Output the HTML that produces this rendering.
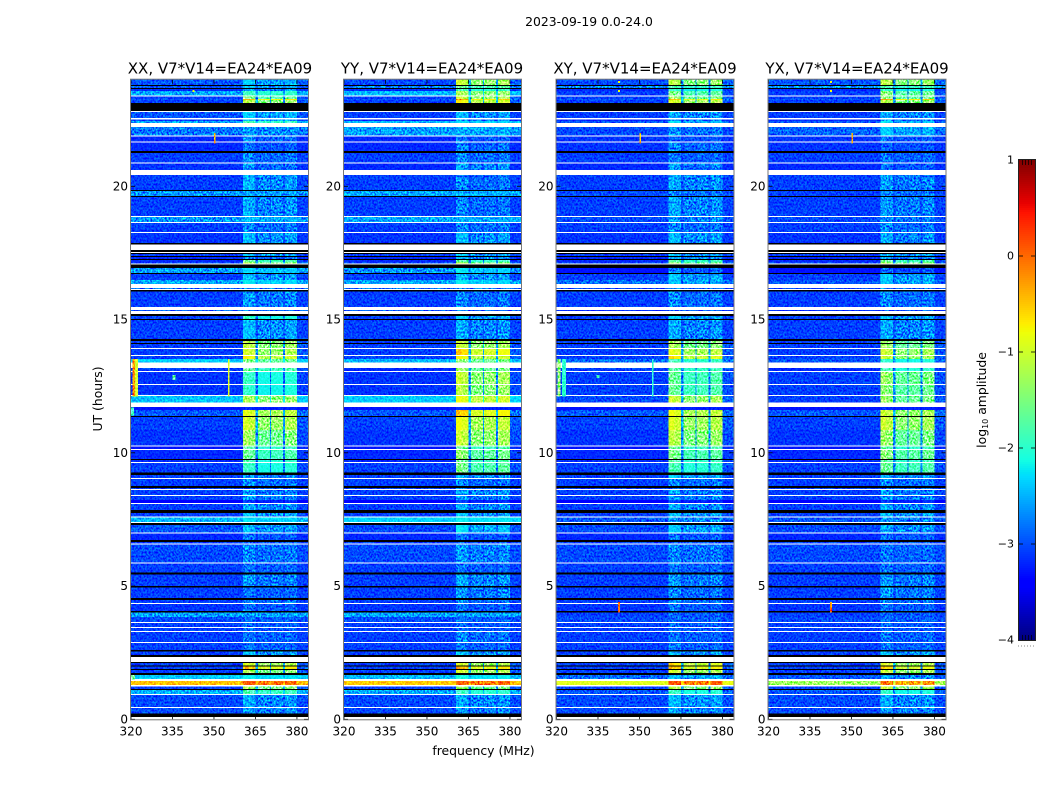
<!DOCTYPE html>
<html lang="en">
<head>
<meta charset="utf-8">
<title>2023-09-19 0.0-24.0 dynamic spectra</title>
<style>
html,body{margin:0;padding:0;background:#fff;}
svg{display:block;}
text{font-family:"DejaVu Sans","Liberation Sans",sans-serif;fill:#000;}
.tick{font-size:12px;}
.ptitle{font-size:15px;text-anchor:middle;}
.axl{font-size:12.4px;text-anchor:middle;}
</style>
</head>
<body>
<svg id="fig" width="1050" height="800" viewBox="0 0 1050 800" xmlns="http://www.w3.org/2000/svg">
  <defs>
    <filter id="speckle" x="0" y="0" width="100%" height="100%" color-interpolation-filters="sRGB">
      <feTurbulence type="fractalNoise" baseFrequency="0.55 0.5" numOctaves="2" seed="7"/>
      <feColorMatrix type="matrix" values="2.4 0 0 0 -0.65  2.4 0 0 0 -0.65  2.4 0 0 0 -0.65  0 0 0 0 1"/>
    </filter>
  </defs>
  <text x="589" y="26" class="axl">2023-09-19 0.0-24.0</text>
  <text x="220" y="73.5" class="ptitle">XX, V7*V14=EA24*EA09</text>
  <text x="432" y="73.5" class="ptitle">YY, V7*V14=EA24*EA09</text>
  <text x="645" y="73.5" class="ptitle">XY, V7*V14=EA24*EA09</text>
  <text x="857" y="73.5" class="ptitle">YX, V7*V14=EA24*EA09</text>
  <text x="483.5" y="755" class="axl">frequency (MHz)</text>
  <text transform="translate(102,399) rotate(-90)" class="axl">UT (hours)</text>
  <text transform="translate(986,400) rotate(-90)" class="axl">log<tspan font-size="8" dy="2">10</tspan><tspan dy="-2"> amplitude</tspan></text>
  <g id="panels"></g>
  <g id="cbar"></g>
</svg>
<script>
// Categories and tick labels
const polarisations = ["XX", "YY", "XY", "YX"];
const freqTicks = [320, 335, 350, 365, 380];
const utTicks = [0, 5, 10, 15, 20];
const colorbarTicks = [1, 0, -1, -2, -3, -4];

// Channel groups (MHz edges) and how much of each row's RFI level each group shows
const channelEdges = [320, 360.5, 362.5, 365, 366, 370.2, 370.7, 375, 375.7, 380, 384];
const channelWeightStrong = [0, 1, 0.95, 0.2, 0.8, 0.2, 0.82, 0.2, 0.88, 0.05];
const channelWeightQuiet = [0, 1, 0.9, 0.15, 0.55, 0.15, 0.6, 0.15, 0.72, 0.03];

// UT hour at the top of every row, from 24 down to 0
const rowTopUT = [24,23.80,23.76,23.69,23.65,23.57,23.41,23.37,23.28,23.24,23.13,22.83,22.79,22.56,22.51,22.45,22.37,22.22,21.91,21.87,
21.68,21.64,21.32,21.25,20.89,20.85,20.61,20.42,19.86,19.82,19.64,19.60,18.89,18.85,18.66,18.62,18.29,18.25,17.87,17.82,
17.61,17.53,17.50,17.46,17.38,17.35,17.27,17.23,17.14,17.10,17.07,16.93,16.75,16.71,16.48,16.33,16.18,16.14,16.11,16.05,
15.47,15.36,15.32,15.21,15.13,15.02,14.98,14.27,14.20,14.12,14.08,13.93,13.89,13.67,13.63,13.52,13.39,13.18,13.07,13.03,
12.58,12.54,12.17,12.13,11.89,11.72,11.61,11.38,11.34,10.86,10.27,10.24,10.14,10.10,9.77,9.73,9.65,9.62,9.26,9.17,
9.05,9.02,8.75,8.68,8.64,8.60,8.42,8.38,8.23,8.12,8.08,7.85,7.74,7.61,7.57,7.40,7.37,7.29,7.01,6.97,
6.73,6.65,6.60,6.56,5.88,5.85,5.51,5.43,5.00,4.95,4.55,4.48,4.36,4.33,4.06,4.01,3.84,3.65,3.61,3.46,
3.43,3.31,3.28,2.90,2.86,2.60,2.54,2.41,2.34,2.15,2.11,2.02,1.98,1.89,1.85,1.74,1.66,1.51,1.44,1.29,
1.23,1.14,1.10,0.95,0.91,0.46,0.42,0.22,0.09];

// Row kind: d = data, w = flagged (white), k = zero (black)
const rowKind = [
"d","k","d","k","d","d","w","d","d","d",
"k","w","d","w","d","d","w","d","w","d",
"w","d","k","d","w","d","w","d","k","d",
"k","d","w","d","w","d","w","d","k","w",
"k","w","k","d","k","d","k","d","d","w",
"k","d","k","d","d","w","d","w","k","d",
"w","d","w","k","d","k","d","k","d","k",
"d","w","d","w","d","d","w","d","w","d",
"w","d","w","d","w","d","d","k","d","d",
"w","d","w","d","k","d","w","d","k","d",
"w","d","k","d","w","d","w","d","d","w",
"d","k","d","w","d","w","k","d","w","d",
"k","d","w","d","w","d","k","d","k","d",
"k","d","w","d","k","d","d","w","d","w",
"d","w","d","w","d","k","d","k","w","k",
"d","k","d","k","d","k","d","w","d","w",
"d","k","d","w","d","w","d","k","w"];

// Off-band level (log10 amplitude) for each data row, top to bottom
const bgXX = [-3.0,-3.0,-3.2,-2.6,-3.1,-3.0,-3.1,-3.0,-3.1,-2.6,
-2.85,-3.2,-3.2,-3.1,-3.15,-3.1,-2.7,-3.1,-2.7,-3.1,
-3.15,-3.1,-3.2,-3.2,-3.0,-2.65,-3.1,-2.6,-2.9,-3.1,
-3.0,-3.1,-3.1,-3.1,-3.1,-3.1,-3.1,-2.4,-3.1,-3.15,
-3.15,-2.45,-3.3,-3.0,-3.1,-3.15,-3.3,-3.2,-3.2,-3.1,
-3.1,-3.1,-3.1,-3.1,-3.1,-3.4,-3.1,-3.1,-2.5,-3.0,
-3.2,-3.1,-3.05,-3.1,-3.1,-3.1,-3.1,-3.15,-2.65,-3.05,
-3.1,-3.1,-3.1,-3.1,-3.1,-3.1,-3.1,-3.1,-2.4,-0.45,
-3.1,-2.55,-3.05,-3.05];
const bgYY = [-3.05,-2.8,-3.2,-2.5,-3.1,-3.0,-3.1,-3.1,-3.2,-2.5,
-2.65,-3.2,-3.2,-3.1,-3.2,-3.1,-2.6,-3.1,-2.6,-3.1,
-3.15,-3.1,-3.2,-3.2,-3.0,-2.7,-3.1,-2.6,-2.9,-3.1,
-3.0,-3.1,-3.1,-3.1,-3.1,-3.1,-3.1,-2.5,-3.2,-3.15,
-3.15,-2.4,-3.3,-3.0,-3.1,-3.15,-3.3,-3.2,-3.2,-3.1,
-3.1,-3.1,-3.1,-3.1,-3.1,-3.4,-3.1,-3.1,-2.35,-3.05,
-3.2,-3.1,-3.05,-3.1,-3.1,-3.1,-3.1,-3.15,-2.6,-3.05,
-3.1,-3.1,-3.1,-3.1,-3.1,-3.1,-3.1,-3.1,-2.5,-0.5,
-3.1,-2.6,-3.05,-3.05];
const bgXY = [-3.05,-2.8,-3.2,-3.1,-3.1,-3.0,-3.1,-3.1,-3.2,-3.0,
-3.05,-3.15,-3.15,-3.1,-3.2,-3.1,-3.05,-3.1,-3.05,-3.1,
-3.15,-3.1,-3.2,-3.2,-3.0,-3.3,-3.1,-2.9,-3.1,-3.1,
-3.2,-3.1,-3.1,-3.1,-3.1,-3.1,-3.1,-2.9,-3.1,-3.1,
-3.1,-3.05,-3.3,-3.0,-3.1,-3.15,-3.3,-3.2,-3.2,-3.1,
-3.1,-3.1,-3.1,-3.1,-3.1,-3.4,-3.1,-3.1,-3.0,-3.05,
-3.2,-3.1,-3.05,-3.1,-3.1,-3.1,-3.1,-3.15,-3.1,-3.05,
-3.1,-3.1,-3.1,-3.1,-3.1,-3.1,-3.1,-3.1,-2.9,-0.9,
-3.1,-3.0,-3.05,-3.05];
const bgYX = [-3.0,-2.7,-3.2,-3.1,-3.1,-3.0,-3.1,-3.1,-3.2,-3.0,
-2.95,-3.15,-3.15,-3.1,-3.2,-3.1,-3.1,-3.1,-3.05,-3.1,
-3.15,-3.1,-3.2,-3.2,-3.0,-3.3,-3.1,-3.0,-3.1,-3.1,
-3.2,-3.1,-3.1,-3.1,-3.1,-3.1,-3.1,-3.0,-3.2,-3.1,
-3.1,-3.1,-3.3,-3.0,-3.1,-3.15,-3.3,-3.2,-3.2,-3.1,
-3.1,-3.1,-3.1,-3.1,-3.1,-3.4,-3.1,-3.1,-3.0,-3.05,
-3.2,-3.1,-3.05,-3.1,-3.1,-3.1,-3.1,-3.15,-3.1,-3.05,
-3.1,-3.1,-3.1,-3.1,-3.1,-3.1,-3.1,-3.1,-3.0,-1.3,
-3.1,-3.0,-3.05,-3.05];

// In-band (360-380 MHz) level for each data row, top to bottom
const rfiXX = [-2.35,-2.4,-2.6,-1.9,-1.5,-0.3,-1.1,-2.35,-2.45,-1.8,
-2.65,-2.75,-2.85,-2.75,-2.75,-2.5,-2.6,-2.55,-2.5,-2.75,
-2.45,-2.4,-2.75,-1.6,-1.0,-2.3,-2.45,-2.2,-2.8,-2.65,
-2.9,-1.95,-2.45,-1.1,-1.05,-0.95,-0.7,-1.5,-1.6,-1.9,
-1.95,-1.2,-3.2,-0.85,-0.95,-1.25,-1.7,-1.6,-1.8,-1.9,
-2.65,-2.75,-2.9,-2.65,-2.65,-3.1,-2.55,-2.45,-2.25,-2.45,
-2.85,-2.9,-2.75,-2.85,-2.65,-2.85,-2.75,-2.85,-2.65,-2.9,
-2.9,-2.9,-2.85,-2.85,-2.45,-0.9,-0.4,-1.2,-2.2,0.1,
-1.2,-1.8,-2.55,-2.65];
const rfiYY = [-1.0,-1.6,-1.8,-1.2,-1.0,-0.2,-0.7,-2.45,-2.65,-2.3,
-2.55,-2.85,-2.75,-2.75,-2.55,-2.75,-2.55,-2.75,-2.55,-2.75,
-2.45,-2.4,-2.45,-1.7,-1.0,-2.2,-2.45,-2.2,-2.8,-2.75,
-2.9,-2.35,-2.55,-1.0,-1.0,-0.5,-0.7,-1.4,-1.3,-1.0,
-1.1,-0.8,-3.2,-0.45,-0.8,-1.0,-1.6,-1.35,-1.6,-1.5,
-2.55,-2.75,-2.9,-2.55,-2.65,-3.1,-2.55,-2.45,-2.2,-2.2,
-2.85,-2.9,-2.65,-2.85,-2.55,-2.65,-2.75,-2.85,-2.65,-2.9,
-2.9,-2.9,-2.75,-2.85,-2.45,-0.9,-0.35,-0.95,-2.1,0.1,
-1.3,-1.9,-2.55,-2.65];
const rfiXY = [-1.1,-1.8,-1.95,-1.5,-1.3,-0.4,-0.9,-2.55,-2.65,-2.2,
-2.75,-2.95,-2.75,-2.85,-2.65,-2.55,-2.75,-2.55,-2.65,-2.75,
-2.45,-2.4,-2.55,-1.7,-1.2,-2.75,-2.35,-2.4,-2.8,-2.75,
-2.9,-2.3,-2.55,-1.2,-1.2,-0.85,-0.6,-1.8,-1.7,-1.6,
-1.6,-1.0,-3.2,-0.8,-0.9,-1.1,-1.6,-1.5,-1.7,-1.8,
-2.35,-2.75,-2.9,-2.65,-2.65,-3.1,-2.55,-2.45,-2.65,-2.35,
-2.85,-2.9,-2.75,-2.85,-2.65,-2.75,-2.75,-2.85,-2.9,-2.9,
-2.9,-2.9,-2.85,-2.85,-2.45,-0.6,-0.4,-0.95,-2.5,0.2,
-1.1,-1.9,-2.45,-2.65];
const rfiYX = [-1.1,-1.8,-1.95,-1.4,-1.4,-0.2,-1.1,-2.55,-2.65,-2.2,
-2.35,-2.85,-2.95,-2.85,-2.85,-2.65,-2.75,-2.65,-2.75,-2.75,
-2.55,-2.5,-2.55,-1.6,-1.1,-2.85,-2.35,-2.4,-2.8,-2.75,
-2.9,-2.4,-2.55,-1.3,-1.3,-1.0,-1.0,-1.95,-1.8,-1.3,
-1.4,-1.3,-3.2,-1.0,-1.0,-1.3,-1.7,-1.4,-1.7,-1.6,
-2.55,-2.75,-2.9,-2.65,-2.65,-3.1,-2.55,-2.45,-2.65,-2.55,
-2.85,-2.9,-2.85,-2.85,-2.65,-2.65,-2.75,-2.85,-2.9,-2.9,
-2.9,-2.9,-2.85,-2.85,-2.45,-0.9,-0.5,-1.0,-2.6,0.0,
-1.0,-1.95,-2.55,-2.65];

// Isolated interference features
const spotPol = [0,0,0,0,0,0,0,0, 2,2,2,2,2,2,2,2, 3,3,3,3];
const spotFreqLow = [320.5,321.5,355,335,342.3,350,320,320, 320.3,322,334.5,354.5,342.3,342.3,350,342.3, 342.3,350,342.3,342.3];
const spotFreqHigh = [321.5,322.5,355.6,336,342.9,350.6,321,321.5, 321.5,323.5,335.5,355,342.9,342.9,350.6,342.9, 342.9,350.6,342.9,342.9];
const spotUTLow = [12.12,12.12,12.12,12.73,23.53,21.6,11.4,1.5, 12.12,12.12,12.8,12.12,23.88,23.53,21.6,4.0, 23.53,21.6,4.0,23.88];
const spotUTHigh = [13.52,13.52,13.52,12.92,23.62,22.0,11.7,1.66, 13.52,13.52,12.92,13.52,23.96,23.62,22.0,4.4, 23.62,22.0,4.4,23.96];
const spotLevel = [-0.2,-1.0,-0.9,-1.7,-0.8,-0.3,-1.9,-1.6, -1.4,-2.0,-1.9,-2.0,-0.8,-0.8,-0.3,0.0, -0.8,-0.3,0.0,-0.8];

const bgByPol = [bgXX, bgYY, bgXY, bgYX];
const rfiByPol = [rfiXX, rfiYY, rfiXY, rfiYX];

const SVGNS = "http://www.w3.org/2000/svg";
const panelsRoot = document.getElementById("panels");
const cbarRoot = document.getElementById("cbar");
const panelLeft = [131, 344, 556.5, 768.5];
const panelWidth = 177;
const axTop = 79.7, axBottom = 719.3;
const cbLeft = 1019, cbRight = 1035, cbTop = 160, cbBottom = 640;

function make(parent, tag, attrs) {
  const n = document.createElementNS(SVGNS, tag);
  for (const k in attrs) n.setAttribute(k, attrs[k]);
  parent.appendChild(n);
  return n;
}
function xAxis(p, mhz) { return panelLeft[p] + (mhz - 320) * panelWidth / 64; }
function yAxis(ut) { return axBottom - ut * (axBottom - axTop) / 24; }
function cbAxis(v) { return cbBottom - (v + 4) * (cbBottom - cbTop) / 5; }
function jet(level) {
  const t = Math.max(0, Math.min(1, (level + 4) / 5));
  let r = 0, g = 0, b = 0;
  if (t > 0.89) r = 1 - 0.5 * (t - 0.89) / 0.11;
  else if (t > 0.66) r = 1;
  else if (t > 0.35) r = (t - 0.35) / 0.31;
  if (t > 0.91) g = 0;
  else if (t > 0.64) g = 1 - (t - 0.64) / 0.27;
  else if (t > 0.375) g = 1;
  else if (t > 0.125) g = (t - 0.125) / 0.25;
  if (t < 0.11) b = 0.5 + 0.5 * t / 0.11;
  else if (t < 0.34) b = 1;
  else if (t < 0.65) b = 1 - (t - 0.34) / 0.31;
  return "rgb(" + Math.round(r * 255) + "," + Math.round(g * 255) + "," + Math.round(b * 255) + ")";
}

polarisations.forEach(function (pol, p) {
  const panel = make(panelsRoot, "g", {});
  
  
  const cells = make(panel, "g", { "shape-rendering": "crispEdges" });
  
  
  let dataIndex = 0;
  rowKind.forEach(function (kind, i) {
    const top = yAxis(rowTopUT[i]);
    const bottom = yAxis(i + 1 < rowTopUT.length ? rowTopUT[i + 1] : 0);
    if (kind !== "d") {
      const flag = make(cells, "rect", {
        x: xAxis(p, 320), y: top, width: panelWidth, height: bottom - top,
        fill: kind === "w" ? "#ffffff" : "#000000"
      });
      
      
      return;
    }
    const bg = bgByPol[p][dataIndex];
    const rfi = rfiByPol[p][dataIndex];
    dataIndex++;
    const weights = rfi < -2.0 ? channelWeightQuiet : channelWeightStrong;
    weights.forEach(function (w, c) {
      const level = bg + (rfi - bg) * w;
      const x0 = xAxis(p, channelEdges[c]);
      const x1 = xAxis(p, channelEdges[c + 1]);
      const cell = make(cells, "rect", { x: x0, y: top, width: x1 - x0, height: bottom - top, fill: jet(level) });
      
      
    });
  });
  spotPol.forEach(function (sp, s) {
    if (sp !== p) return;
    const x0 = xAxis(p, spotFreqLow[s]);
    const y0 = yAxis(spotUTHigh[s]);
    const spot = make(cells, "rect", {
      x: x0, y: y0, width: xAxis(p, spotFreqHigh[s]) - x0,
      height: yAxis(spotUTLow[s]) - y0, fill: jet(spotLevel[s])
    });
    
    
  });
  const speckle = make(panel, "rect", {
    x: xAxis(p, 320), y: axTop, width: panelWidth, height: axBottom - axTop,
    filter: "url(#speckle)", style: "mix-blend-mode:overlay"
  });
  
  

  freqTicks.forEach(function (f) {
    const x = xAxis(p, f);
    const t1 = make(panel, "line", { x1: x, x2: x, y1: axBottom, y2: axBottom - 4, stroke: "#000", "stroke-width": 0.8 });
    
    
    const t2 = make(panel, "line", { x1: x, x2: x, y1: axTop, y2: axTop + 4, stroke: "#000", "stroke-width": 0.8 });
    
    
    const lab = make(panel, "text", { x: x, y: 735.5, "text-anchor": "middle", class: "tick" });
    lab.textContent = String(f);
    
    
  });
  utTicks.forEach(function (u) {
    const y = yAxis(u);
    const t1 = make(panel, "line", { x1: xAxis(p, 320), x2: xAxis(p, 320) + 4, y1: y, y2: y, stroke: "#000", "stroke-width": 0.8 });
    
    
    const t2 = make(panel, "line", { x1: xAxis(p, 384), x2: xAxis(p, 384) - 4, y1: y, y2: y, stroke: "#000", "stroke-width": 0.8 });
    
    
    const lab = make(panel, "text", { x: xAxis(p, 320) - 3, y: y + 4, "text-anchor": "end", class: "tick" });
    lab.textContent = String(u);
    
    
  });
  const frame = make(panel, "rect", {
    x: xAxis(p, 320) - 0.5, y: axTop - 0.5, width: panelWidth + 1, height: axBottom - axTop + 1,
    fill: "none", stroke: "#777", "stroke-width": 1
  });
  
  
});

// Colour bar
const ramp = make(cbarRoot, "g", { "shape-rendering": "crispEdges" });


for (let i = 0; i < 240; i++) {
  const v0 = -4 + i * 5 / 240;
  const v1 = -4 + (i + 1) * 5 / 240;
  const seg = make(ramp, "rect", {
    x: cbLeft, y: cbAxis(v1), width: cbRight - cbLeft, height: cbAxis(v0) - cbAxis(v1),
    fill: jet((v0 + v1) / 2)
  });
  
  
}
for (let k = 0; k < 4; k++) {
  const x = cbLeft + 3.5 + k * 3;
  const mt = make(cbarRoot, "line", { x1: x, x2: x, y1: cbTop, y2: cbTop + 5, stroke: "#000", "stroke-width": 0.7 });
  
  
  const mb = make(cbarRoot, "line", { x1: x, x2: x, y1: cbBottom, y2: cbBottom - 5, stroke: "#000", "stroke-width": 0.7 });
  
  
}
colorbarTicks.forEach(function (v) {
  const y = cbAxis(v);
  if (v !== 1 && v !== -4) {
    const a = make(cbarRoot, "line", { x1: cbLeft, x2: cbLeft + 4, y1: y, y2: y, stroke: "#000", "stroke-width": 0.8 });
    
    
    const b = make(cbarRoot, "line", { x1: cbRight, x2: cbRight - 4, y1: y, y2: y, stroke: "#000", "stroke-width": 0.8 });
    
    
  }
  const lab = make(cbarRoot, "text", { x: cbLeft - 5, y: y + 3.5, "text-anchor": "end", style: "font-size:11px" });
  lab.textContent = v < 0 ? "\u2212" + Math.abs(v) : String(v);
  
  
});
const cbFrame = make(cbarRoot, "rect", {
  x: cbLeft - 0.5, y: cbTop - 0.5, width: cbRight - cbLeft + 1, height: cbBottom - cbTop + 1,
  fill: "none", stroke: "#222", "stroke-width": 1
});


const dots = make(cbarRoot, "line", {
  x1: cbLeft - 1, x2: cbRight, y1: 646, y2: 646, stroke: "#888", "stroke-width": 1, "stroke-dasharray": "1 2"
});


</script>
</body>
</html>
